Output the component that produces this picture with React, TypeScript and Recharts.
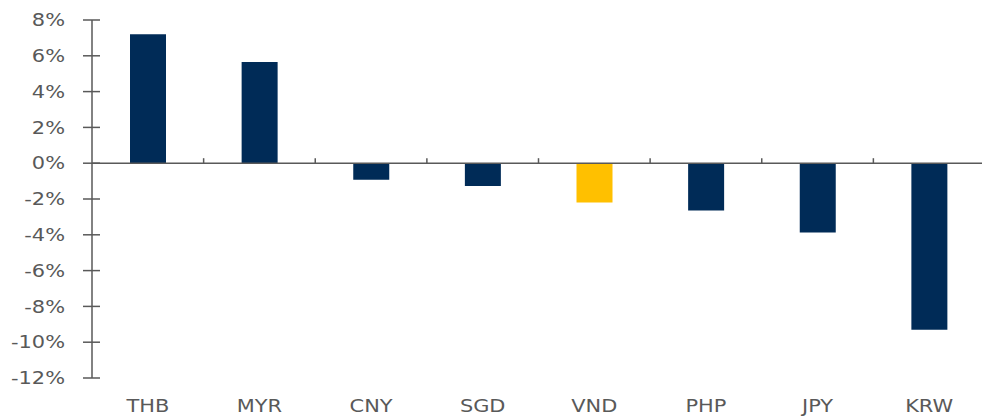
import { BarChart, Bar, Cell, XAxis, YAxis, ReferenceLine } from "recharts";

const currencies = ["THB", "MYR", "CNY", "SGD", "VND", "PHP", "JPY", "KRW"];
const changes = [7.2, 5.65, -0.92, -1.28, -2.2, -2.64, -3.87, -9.3];
const yTicks = [-12, -10, -8, -6, -4, -2, 0, 2, 4, 6, 8];
const boundaries = [1, 2, 3, 4, 5, 6, 7];
const highlight = "VND";

const data = currencies.map((c, i) => ({ name: c, value: changes[i], idx: i + 0.5 }));

const NAVY = "#002b57";
const GOLD = "#ffc000";
const AXIS = "#595959";
const TEXT = "#595959";
const FONT = "'DejaVu Sans', Verdana, sans-serif";
const STRETCH = 1.23;

function YTick(props: any) {
  const { x, y, payload } = props;
  const axisX = x + 9 + 18;
  return (
    <g>
      <line x1={axisX} x2={axisX + 8} y1={y} y2={y} stroke={AXIS} strokeWidth={1.5} />
      <text
        transform={`translate(${x},${y}) scale(${STRETCH},1)`}
        dy="0.36em"
        textAnchor="end"
        fill={TEXT}
        fontSize={17}
        fontFamily={FONT}
      >
        {`${payload.value}%`}
      </text>
    </g>
  );
}

function XTick(props: any) {
  const { x, y, payload } = props;
  return (
    <text
      transform={`translate(${x},${y}) scale(${STRETCH},1)`}
      dy="0.71em"
      textAnchor="middle"
      fill={TEXT}
      fontSize={17}
      fontFamily={FONT}
    >
      {payload.value}
    </text>
  );
}

export default function App() {
  return (
    <div style={{ position: "absolute", left: 0, top: 0, width: 982, height: 417, overflow: "hidden", background: "#fff" }}>
      <BarChart
        width={985}
        height={417}
        data={data}
        margin={{ top: 20, right: 0, left: 0, bottom: 0 }}
        barSize={36}
      >
        <XAxis
          dataKey="name"
          height={39}
          axisLine={false}
          tickLine={false}
          tickSize={0}
          tickMargin={22}
          interval={0}
          tick={<XTick />}
        />
        <XAxis xAxisId="n" type="number" dataKey="idx" domain={[0, 8]} allowDataOverflow hide />
        <YAxis
          width={92}
          domain={[-12, 8]}
          ticks={yTicks}
          interval={0}
          axisLine={{ stroke: AXIS, strokeWidth: 1.5 }}
          tickLine={{ stroke: AXIS, strokeWidth: 1.5 }}
          tickSize={9}
          tickMargin={18}
          tick={<YTick />}
        />
        <ReferenceLine y={0} stroke={AXIS} strokeWidth={1.5} />
        {boundaries.map((b) => (
          <ReferenceLine
            key={b}
            xAxisId="n"
            segment={[{ x: b, y: 0 }, { x: b, y: 0.28 }]}
            stroke={AXIS}
            strokeWidth={1.5}
          />
        ))}
        <Bar dataKey="value" isAnimationActive={false}>
          {data.map((d) => (
            <Cell key={d.name} fill={d.name === highlight ? GOLD : NAVY} />
          ))}
        </Bar>
      </BarChart>
    </div>
  );
}
